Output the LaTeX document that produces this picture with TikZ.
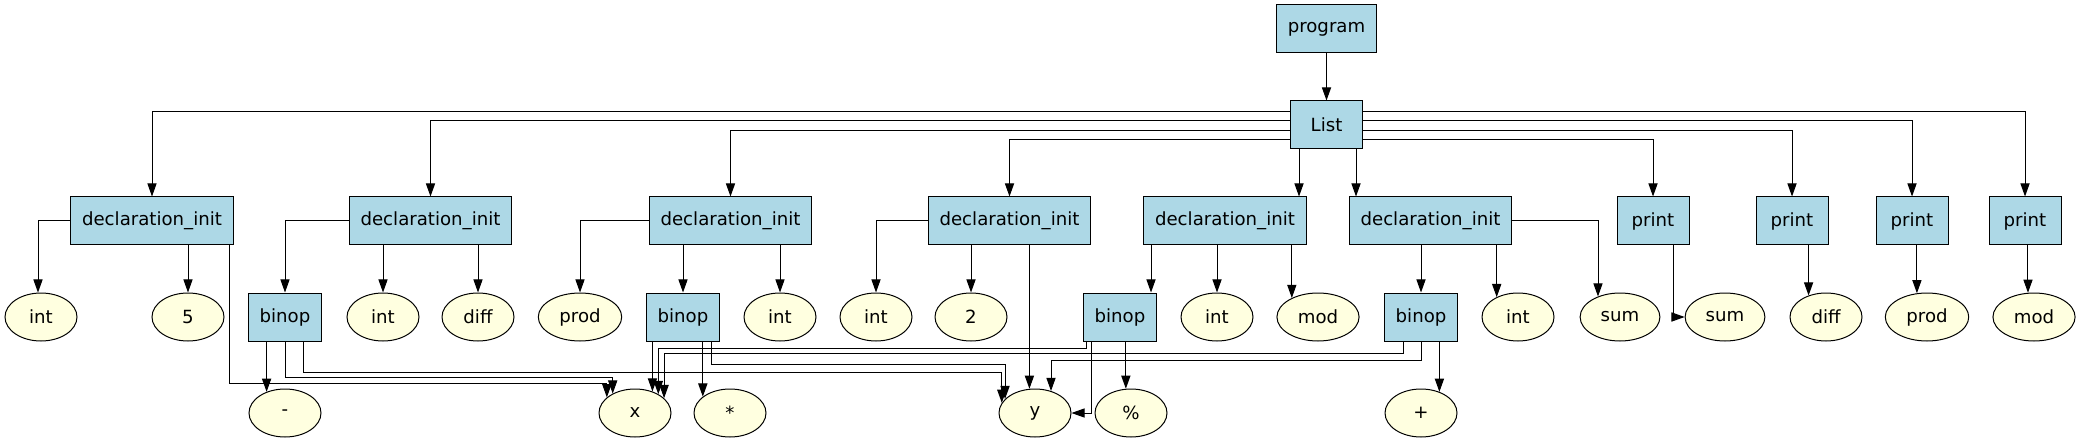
\documentclass[tikz,border=0pt]{standalone}
\usepackage{fontspec}
\setmainfont{DejaVu Sans}
\usetikzlibrary{arrows.meta,shapes.geometric}
\definecolor{astblue}{RGB}{173,216,230}
\definecolor{leafyellow}{RGB}{255,255,224}

\begin{document}
\begin{tikzpicture}[x=0.5pt, y=-0.5pt, line width=0.5pt,
    >={Triangle[length=6.6pt,width=4.6pt]},
    astbox/.style={draw, fill=astblue, minimum width=36pt, minimum height=24pt,
      inner xsep=5.75pt, font=\fontsize{9.07}{11}\selectfont},
    astleaf/.style={draw, ellipse, fill=leafyellow, minimum width=36pt,
      minimum height=24pt, inner xsep=4.45pt, inner ysep=2pt,
      font=\fontsize{9.07}{11}\selectfont}]

      \useasboundingbox (0,0) rectangle (2081,443);

      % root of the tree
      \node[astbox] (prog) at (1326.5,29) {program};
      \node[astbox] (list) at (1326.5,125) {List};

      % statements of the list
      \node[astbox] (d1) at (152,221) {declaration\_init};
      \node[astbox] (d2) at (430.5,221) {declaration\_init};
      \node[astbox] (d3) at (730.5,221) {declaration\_init};
      \node[astbox] (d4) at (1009.5,221) {declaration\_init};
      \node[astbox] (d5) at (1225,221) {declaration\_init};
      \node[astbox] (d6) at (1430.5,221) {declaration\_init};
      \node[astbox] (p1) at (1653,221) {print};
      \node[astbox] (p2) at (1792,221) {print};
      \node[astbox] (p3) at (1912,221) {print};
      \node[astbox] (p4) at (2025,221) {print};

      % second level: types, names, values and binops
      \node[astleaf] (int1) at (41,317) {int};
      \node[astleaf] (five) at (188,317) {5};
      \node[astbox] (b1) at (285,317) {binop};
      \node[astleaf] (int2) at (383,317) {int};
      \node[astleaf] (diff1) at (478,317) {diff};
      \node[astleaf] (prod1) at (580,317) {prod};
      \node[astbox] (b2) at (683,317) {binop};
      \node[astleaf] (int3) at (780,317) {int};
      \node[astleaf] (int4) at (876,317) {int};
      \node[astleaf] (two) at (971,317) {2};
      \node[astbox] (b3) at (1120,317) {binop};
      \node[astleaf] (int5) at (1217,317) {int};
      \node[astleaf] (mod1) at (1318,317) {mod};
      \node[astbox] (b4) at (1421,317) {binop};
      \node[astleaf] (int6) at (1518,317) {int};
      \node[astleaf] (sum1) at (1620,317) {sum};
      \node[astleaf] (sum2) at (1725,317) {sum};
      \node[astleaf] (diff2) at (1826,317) {diff};
      \node[astleaf] (prod2) at (1927,317) {prod};
      \node[astleaf] (mod2) at (2034,317) {mod};

      % operators and operands
      \node[astleaf] (minus) at (285,413) {-};
      \node[astleaf] (xv) at (635,413) {x};
      \node[astleaf] (star) at (730,413) {*};
      \node[astleaf] (yv) at (1035,413) {y};
      \node[astleaf] (pct) at (1131,413) {\%};
      \node[astleaf] (plus) at (1421,413) {+};

      \draw[->] (prog) -- (list);

      % edges out of the list, nested on both sides
      \draw[->] (list.west |- 0,112) -| (d1);
      \draw[->] (list.west |- 0,121) -| (d2);
      \draw[->] (list.west |- 0,131) -| (d3);
      \draw[->] (list.west |- 0,140) -| (d4);
      \draw[->] (list.south -| 1299,0) -- (d5.north -| 1299,0);
      \draw[->] (list.south -| 1356,0) -- (d6.north -| 1356,0);
      \draw[->] (list.east |- 0,140) -| (p1);
      \draw[->] (list.east |- 0,131) -| (p2);
      \draw[->] (list.east |- 0,121) -| (p3);
      \draw[->] (list.east |- 0,112) -| (p4);

      % children of the declarations
      \draw[->] (d1.west) -| (int1.97);
      \draw[->] (d1.south -| five) -- (five);
      \draw[->] (d1.south -| 229,0) |- (xv.151 |- 0,383) -- (xv.151);
      \draw[->] (d2.west) -| (b1);
      \draw[->] (d2.south -| int2) -- (int2);
      \draw[->] (d2.south -| diff1) -- (diff1);
      \draw[->] (d3.west) -| (prod1);
      \draw[->] (d3.south -| b2) -- (b2);
      \draw[->] (d3.south -| int3) -- (int3);
      \draw[->] (d4.west) -| (int4);
      \draw[->] (d4.south -| two) -- (two);
      \draw[->] (d4.south -| yv.103) -- (yv.103);
      \draw[->] (d5.south -| 1151,0) -- (b3.north -| 1151,0);
      \draw[->] (d5.south -| int5) -- (int5);
      \draw[->] (d5.south -| mod1.144) -- (mod1.144);
      \draw[->] (d6.south -| b4) -- (b4);
      \draw[->] (d6.south -| int6.137) -- (int6.137);
      \draw[->] (d6.east) -| (sum1.137);

      % the print statements
      \draw[->] (p1.south -| 1673,0) |- (sum2.west);
      \draw[->] (p2.south -| diff2.129) -- (diff2.129);
      \draw[->] (p3.south -| prod2.113) -- (prod2.113);
      \draw[->] (p4.south -| mod2.104) -- (mod2.104);

      % binop operands, all routed below the second row
      \draw[->] (b1.south -| minus.131) -- (minus.131);
      \draw[->] (b1.south) |- (xv.139 |- 0,377) -- (xv.139);
      \draw[->] (b1.south -| 303,0) |- (yv.163 |- 0,372) -- (yv.163);
      \draw[->] (b2.south -| xv.51) -- (xv.51);
      \draw[->] (b2.south -| star.149) -- (star.149);
      \draw[->] (b2.south -| 711,0) |- (yv.155 |- 0,364) -- (yv.155);
      \draw[->] (b3.south -| 1086,0) |- (xv.39 |- 0,348) -- (xv.39);
      \draw[->] (b3.south -| 1091,0) |- (yv.east);
      \draw[->] (b3.south -| pct.102) -- (pct.102);
      \draw[->] (b4.south -| 1403,0) |- (xv.27 |- 0,353) -- (xv.27);
      \draw[->] (b4.south) |- (yv.54 |- 0,360) -- (yv.54);
      \draw[->] (b4.south -| plus.49) -- (plus.49);
    \end{tikzpicture}
\end{document}
